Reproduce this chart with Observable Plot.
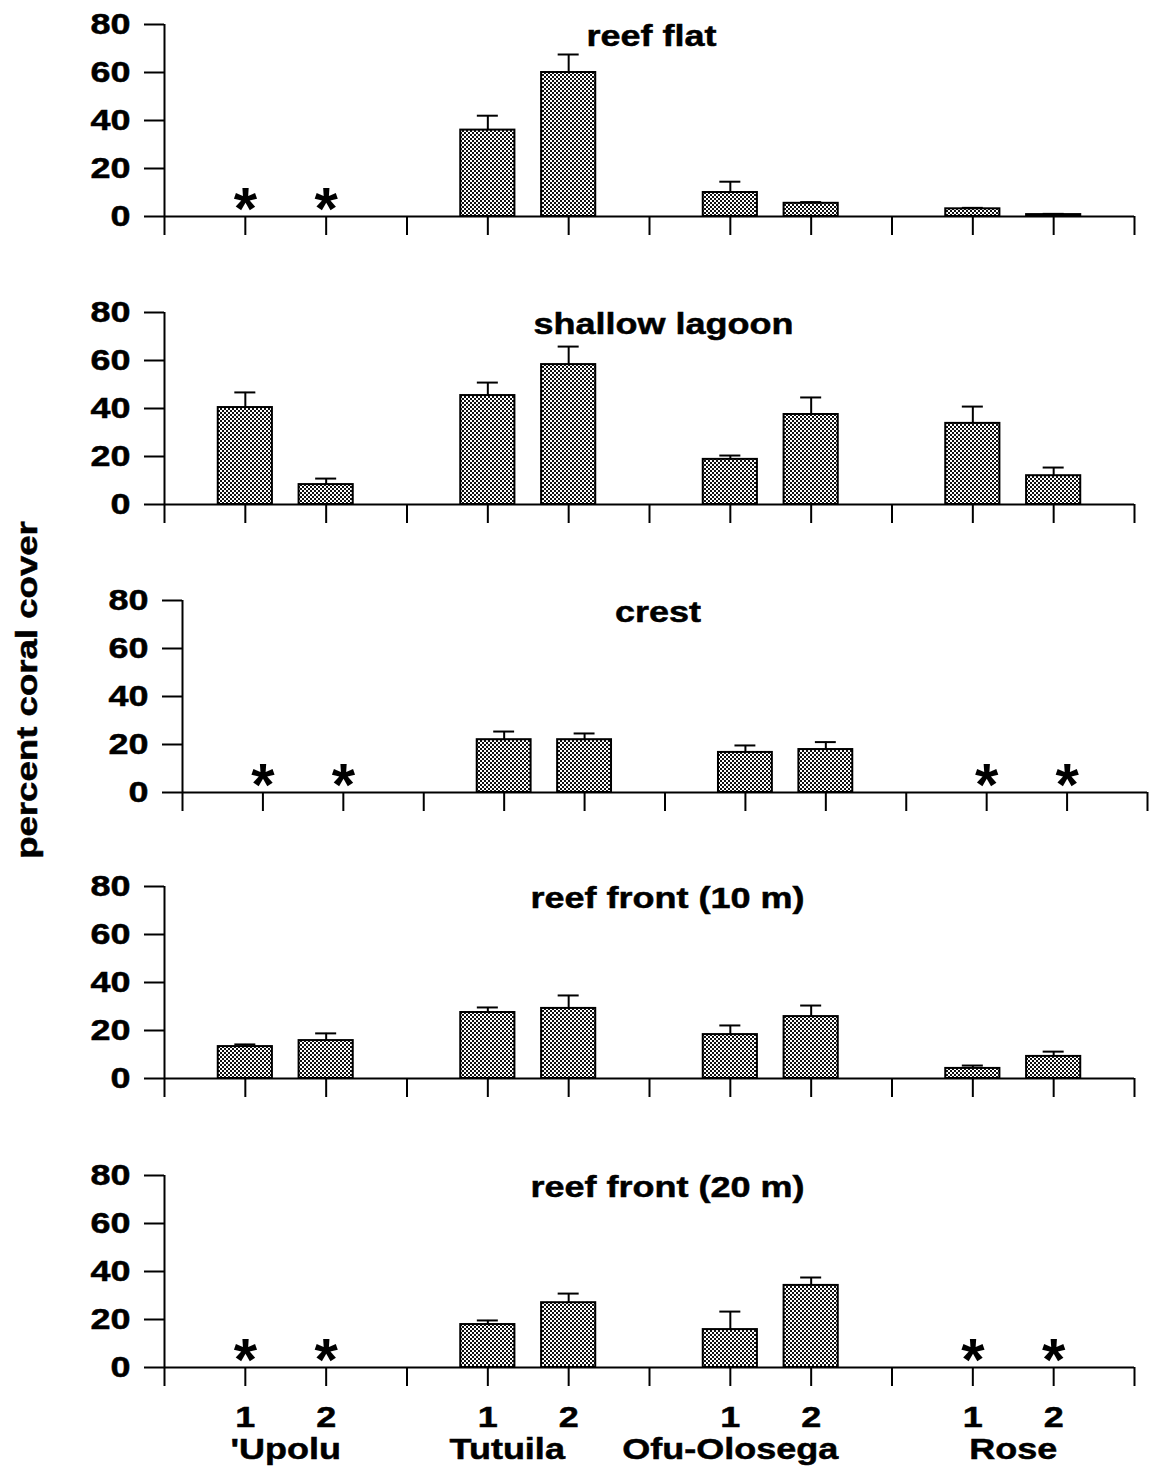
<!DOCTYPE html>
<html><head><meta charset="utf-8">
<script src="https://cdn.jsdelivr.net/npm/d3@7"></script>
<script src="https://cdn.jsdelivr.net/npm/@observablehq/plot@0.6"></script>
<style>
body{margin:0;background:#fff;}
#wrap{position:relative;width:1152px;height:1469px;background:#fff;font-family:"Liberation Sans",Arial,sans-serif;}
.panel{position:absolute;left:0;z-index:1;}
#ylab{position:absolute;left:-173px;top:673px;width:400px;height:34px;line-height:34px;text-align:center;z-index:5;
  font-weight:bold;font-size:30px;color:#000;transform:rotate(-90deg) scale(1.22,1);transform-origin:center;white-space:nowrap;
  -webkit-text-stroke:0.5px #000;}
</style></head><body><div id="wrap"><div id="ylab">percent coral cover</div></div>
<script>
// categories
const islands = ["'Upolu", "Tutuila", "Ofu-Olosega", "Rose"];
const sites = ["1", "2"];
const habitats = ["reef flat", "shallow lagoon", "crest", "reef front (10 m)", "reef front (20 m)"];
const yTicks = [0, 20, 40, 60, 80];
// mean percent coral cover; order: 'Upolu 1,2, Tutuila 1,2, Ofu-Olosega 1,2, Rose 1,2 (null = not sampled, *)
const reefFlat      = [null, null, 36, 60, 10, 5.5, 3.2, 0.8];
const shallowLagoon = [40.4, 8.3, 45.4, 58.3, 18.8, 37.5, 33.8, 12];
const crest         = [null, null, 22, 22, 16.7, 17.9, null, null];
const reefFront10   = [13.3, 15.8, 27.5, 29.2, 18.3, 25.8, 4.2, 9.2];
const reefFront20   = [null, null, 17.9, 27, 15.8, 34.2, null, null];
// standard error (upper error bar length)
const reefFlatSE      = [null, null, 6, 7.5, 4.5, 0.5, 0.4, 0.3];
const shallowLagoonSE = [6.3, 2.5, 5.4, 7.5, 1.6, 7.1, 7, 3.4];
const crestSE         = [null, null, 3.4, 2.6, 2.9, 3.1, null, null];
const reefFront10SE   = [0.9, 3, 2.1, 5.4, 3.8, 4.6, 1.2, 2];
const reefFront20SE   = [null, null, 1.7, 3.8, 7.5, 3.3, null, null];

const means = [reefFlat, shallowLagoon, crest, reefFront10, reefFront20];
const ses = [reefFlatSE, shallowLagoonSE, crestSE, reefFront10SE, reefFront20SE];

// layout (pixels / style)
const panelTop = [0, 288, 576, 864, 1152];
const panelH = [288, 288, 288, 288, 317];
const mTop = [24, 24, 24, 22, 23];
const mLeft = [164, 164, 182, 164, 164];
const mRight = [18, 18, 5, 18, 18];
const titleDx = [2, 14, -7, 18, 18];
const islandShift = [0, -0.26, -0.5, 0];
const STRETCH = 1.2;
const FONT = '"Liberation Sans", Arial, sans-serif';

const wrap = document.getElementById("wrap");

habitats.forEach((hab, k) => {
  const rows = [];
  islands.forEach((isl, i) => sites.forEach((s, j) => {
    const n = i * 2 + j;
    rows.push({island: isl, site: s, pos: 3 * i + 1 + j, mean: means[k][n], se: ses[k][n]});
  }));
  const present = rows.filter(d => d.mean != null);
  const missing = rows.filter(d => d.mean == null);
  const last = k === habitats.length - 1;
  const svg = Plot.plot({
    width: 1152,
    height: panelH[k],
    marginTop: mTop[k],
    marginBottom: panelH[k] - mTop[k] - 192,
    marginLeft: mLeft[k],
    marginRight: mRight[k],
    x: {domain: [0, 12], axis: null},
    y: {domain: [0, 80], axis: null},
    style: {fontFamily: FONT, fontWeight: "bold", fontSize: "30px", color: "black", background: "transparent", overflow: "visible"},
    marks: [
      Plot.axisY({ticks: yTicks, tickSize: 20, tickPadding: 14, tickFormat: d => String(d), strokeWidth: 2, label: null}),
      Plot.axisX({ticks: d3.range(13), tickSize: 19, tickPadding: 19, strokeWidth: 2, label: null,
        tickFormat: d => (last && d % 3 !== 0) ? sites[(d % 3) - 1] : ""}),
      Plot.rect(present, {x1: d => d.pos - 0.335, x2: d => d.pos + 0.335, y1: () => 0, y2: "mean",
        fill: "#888", stroke: "black", strokeWidth: 2}),
      Plot.ruleX(present, {x: "pos", y1: "mean", y2: d => d.mean + d.se, strokeWidth: 2}),
      Plot.ruleY(present, {y: d => d.mean + d.se, x1: d => d.pos - 0.13, x2: d => d.pos + 0.13, strokeWidth: 2}),
      Plot.ruleY([0], {x1: () => 0, x2: () => 12, strokeWidth: 2}),
      Plot.ruleX([0], {y1: () => 0, y2: () => 80, strokeWidth: 2}),
      Plot.text(missing, {x: "pos", y: () => 0, text: () => "*", fontSize: 60, fontWeight: 900, lineAnchor: "middle", dy: -7}),
      Plot.text([hab], {frameAnchor: "top", text: d => d, dx: titleDx[k], dy: 0, lineAnchor: "top", fontSize: 30}),
      last ? Plot.text(islands, {x: (d, i) => 3 * i + 1.5 + islandShift[i], text: d => d, frameAnchor: "bottom",
        dy: 82, lineAnchor: "middle", fontSize: 30}) : null
    ]
  });
  svg.classList.add("panel");
  svg.style.top = panelTop[k] + "px";
  wrap.appendChild(svg);
  // checkered fill pattern for bars
  const ns = "http://www.w3.org/2000/svg";
  const defs = document.createElementNS(ns, "defs");
  defs.innerHTML = `<pattern id="chk${k}" width="4" height="4" patternUnits="userSpaceOnUse">
    <rect width="4" height="4" fill="#fff"/><rect width="2" height="2" fill="#111"/>
    <rect x="2" y="2" width="2" height="2" fill="#111"/></pattern>`;
  svg.insertBefore(defs, svg.firstChild);
  svg.querySelectorAll('g[aria-label="rect"]').forEach(g => g.setAttribute("fill", `url(#chk${k})`));
  // wide, heavy lettering as in the original figure
  svg.querySelectorAll("text").forEach(t => {
    const s = t.textContent;
    if (!s || s === "*") return;
    const len = t.getComputedTextLength();
    if (len > 0) {
      t.setAttribute("textLength", (len * STRETCH).toFixed(1));
      t.setAttribute("lengthAdjust", "spacingAndGlyphs");
      t.setAttribute("stroke", "black");
      t.setAttribute("stroke-width", "0.5");
    }
  });
});
</script>
</body></html>
